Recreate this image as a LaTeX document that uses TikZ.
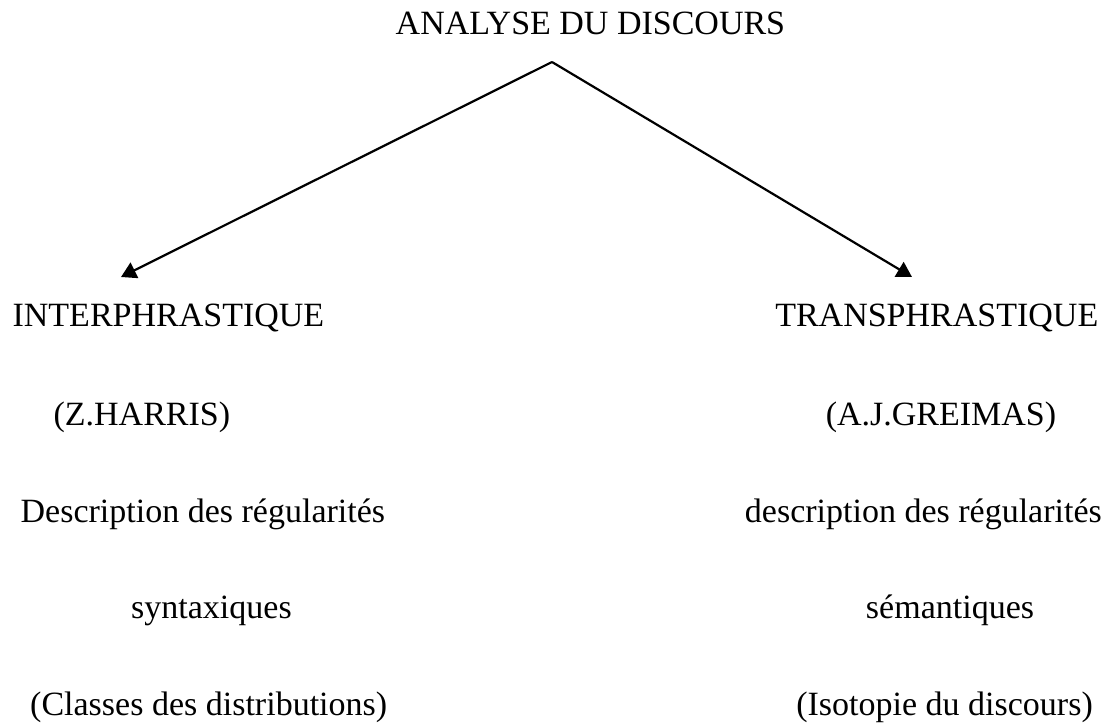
\documentclass[tikz,border=0pt]{standalone}
\usepackage{fontspec}
\setmainfont{Liberation Serif}
\usetikzlibrary{arrows.meta}
\begin{document}
\begin{tikzpicture}[x=1pt,y=-1pt,
  txt/.style={inner sep=0pt,font=\fontsize{34}{40}\selectfont},
  arr/.style={line width=2.2pt,-{Triangle[length=15pt,width=17pt]}}]
\useasboundingbox (0,0) rectangle (1107,722);
\node[txt,anchor=base west] (title) at (395.5,35) {ANALYSE DU DISCOURS};
\coordinate (apex) at (552,62);
\coordinate (lt) at (121,277);
\coordinate (rt) at (912,277);
\draw[arr] (apex) -- (lt);
\draw[arr] (apex) -- (rt);
\node[txt,anchor=base west] (inter) at (12.4,326) {INTERPHRASTIQUE};
\node[txt,anchor=base east] (trans) at (1098.5,326) {TRANSPHRASTIQUE};
\node[txt,anchor=base west] (harris) at (53.4,425) {(Z.HARRIS)};
\node[txt,anchor=base] (greimas) at (941,425) {(A.J.GREIMAS)};
\node[txt,anchor=base west] (desc1) at (20.5,522) {Description des régularités};
\node[txt,anchor=base east] (desc2) at (1102,522) {description des régularités};
\node[txt,anchor=base west] (synt) at (131,618) {syntaxiques};
\node[txt,anchor=base] (sem) at (950,618) {sémantiques};
\node[txt,anchor=base west] (classes) at (30,715) {(Classes des distributions)};
\node[txt,anchor=base east] (iso) at (1093,715) {(Isotopie du discours)};
\end{tikzpicture}
\end{document}
